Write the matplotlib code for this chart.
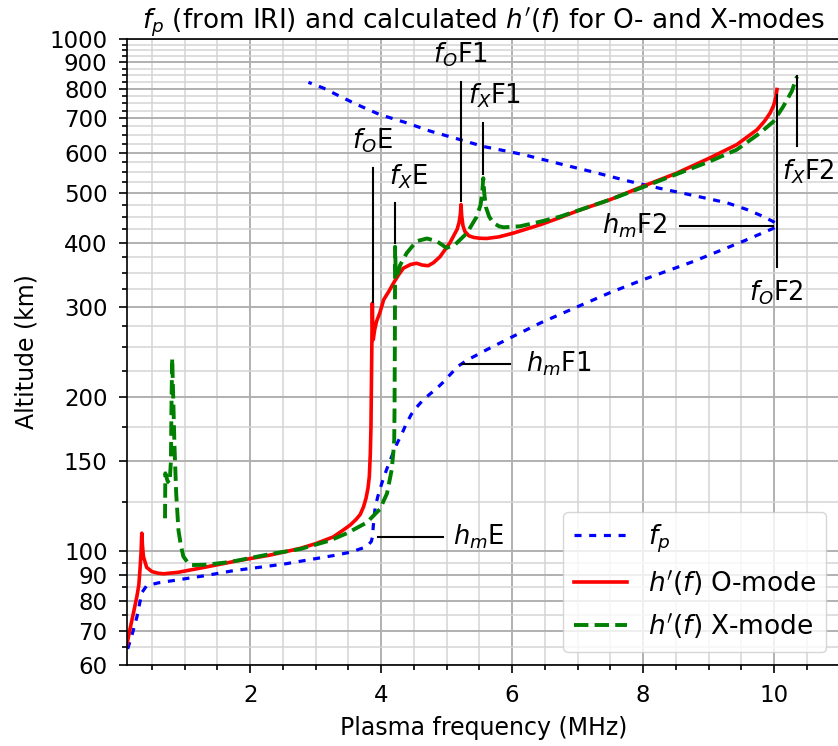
import numpy as np
import matplotlib
matplotlib.use("Agg")
import matplotlib.pyplot as plt
from matplotlib.ticker import NullFormatter

# plasma frequency profile (MHz, km), bottomside then topside
fp_freq = [0.13, 0.2, 0.27, 0.32, 0.35, 0.42, 0.6, 0.98, 1.28, 1.75, 2.51, 3.27, 3.53,
           3.73, 3.80, 3.85, 3.87, 3.88, 3.91, 3.95, 4.01, 4.08, 4.16, 4.24, 4.32, 4.39,
           4.46, 4.54, 4.65, 4.75, 4.85, 4.95, 5.05, 5.18, 5.31, 5.6, 5.97, 6.43, 6.94,
           7.5, 8.0, 8.77, 9.53, 9.99, 10.05,
           9.99, 9.79, 9.58, 9.28, 8.77, 8.26, 7.75, 7.24, 6.84, 6.17, 5.56, 5.21, 4.75,
           4.39, 3.98, 3.63, 3.37, 3.12, 2.89]
fp_alt = [64.5, 69, 74.4, 80, 83.2, 85.7, 86.8, 88.3, 89.5, 91.7, 94.4, 98.1, 99.6,
          101.6, 102.8, 104.5, 107, 112, 122, 128, 135.7, 144, 153, 162, 170, 178,
          185, 191, 198, 203, 208, 214, 221, 230, 236, 247, 261, 279, 298,
          320, 339, 368, 403, 427, 432,
          440, 453, 465, 479, 495, 511, 529, 550, 566, 595, 617, 636, 661,
          686, 712, 745, 773, 802, 823]

# virtual height, O-mode
o_freq = [0.12, 0.17, 0.22, 0.27, 0.30, 0.32, 0.335, 0.345, 0.355, 0.37, 0.42, 0.5, 0.6,
          0.68, 0.9, 1.29, 1.8, 2.3, 2.76, 3.0, 3.27, 3.42, 3.53, 3.62, 3.68, 3.73, 3.77,
          3.80, 3.82, 3.835, 3.845, 3.855, 3.862, 3.866, 3.872, 3.88, 3.9, 3.93, 3.98,
          4.04, 4.12, 4.19, 4.27, 4.34, 4.45, 4.54, 4.63, 4.72, 4.80, 4.90, 5.05, 5.16,
          5.19, 5.21, 5.22, 5.23, 5.25, 5.28, 5.34, 5.41, 5.5, 5.61, 5.8, 6.02, 6.43,
          6.73, 7.0, 7.5, 8.0, 8.51, 9.02, 9.43, 9.74, 9.85, 9.94, 9.99, 10.02, 10.035, 10.045]
o_alt = [66, 71, 76, 81.6, 86, 93, 100, 108.5, 103, 97.7, 93, 91.3, 90.6,
         90.4, 91, 93, 95.8, 98.3, 101.3, 103.5, 106.7, 110, 112.6, 115.5, 118, 122, 127,
         133, 140, 155, 175, 230, 280, 305, 275, 259, 270, 281, 292,
         310, 322, 334, 347, 357, 363, 365, 362, 361, 366, 376, 400, 425,
         438, 455, 475, 452, 432, 421, 413, 410, 408.5, 408, 411, 418, 434,
         448, 462, 486, 516, 547, 586, 622, 665, 690, 717, 740, 762, 780, 797]

# virtual height, X-mode
x_freq = [0.70, 0.705, 0.74, 0.77, 0.79, 0.80, 0.81, 0.825, 0.845, 0.87, 0.905, 0.94,
          0.98, 1.05, 1.11, 1.34, 1.69, 2.31, 2.76, 3.22, 3.48, 3.78, 3.98, 4.09, 4.16,
          4.185, 4.2, 4.205, 4.208, 4.21, 4.212, 4.213, 4.225, 4.26, 4.29, 4.39, 4.54,
          4.70, 4.85, 5.0, 5.13, 5.31, 5.46, 5.52, 5.545, 5.56, 5.575, 5.6, 5.65, 5.71,
          5.8, 5.87, 6.12, 6.43, 6.73, 7.5, 8.0, 8.5, 9.02, 9.43, 9.79, 9.99, 10.14,
          10.27, 10.35]
x_alt = [116, 142, 137, 136, 150, 200, 238, 200, 160, 130, 110, 103,
         97.7, 95, 94, 94.2, 95.3, 98.8, 101, 105, 108.5, 113.8, 120.8, 129.7, 144,
         155, 165, 190, 230, 259, 320, 393, 345, 350, 362, 382, 403,
         408, 403, 391, 397, 418, 450, 475, 505, 535, 500, 470, 450, 438,
         431, 429, 431, 440, 450, 486, 514, 544, 577, 608, 656, 690, 738,
         790, 845]

# critical frequency markers: label, line f, line bottom, line top, text f, text h, text va
crit_labels = ["$f_O$E", "$f_X$E", "$f_O$F1", "$f_X$F1", "$f_O$F2", "$f_X$F2"]
crit_f = [3.873, 4.21, 5.22, 5.55, 10.05, 10.35]
crit_lo = [307, 400, 482, 544, 359, 619]
crit_hi = [560, 479, 823, 686, 779, 845]
crit_tf = [3.87, 4.42, 5.21, 5.73, 10.03, 10.52]
crit_th = [595, 504, 872, 728, 341, 586]
crit_va = ["bottom", "bottom", "bottom", "bottom", "top", "top"]

# peak height markers: label, line from, line to, height, text f, text alignment
hm_labels = ["$h_m$E", "$h_m$F1", "$h_m$F2"]
hm_f0 = [3.95, 5.24, 8.56]
hm_f1 = [4.94, 5.97, 9.99]
hm_h = [106.6, 232, 432]
hm_tf = [5.10, 6.21, 8.37]
hm_ha = ["left", "left", "right"]

y_major = [60, 70, 80, 90, 100, 150, 200, 300, 400, 500, 600, 700, 800, 900, 1000]
y_minor = [65, 75, 85, 95] + [v for v in range(125, 1000, 25) if v not in y_major]

fig = plt.figure(figsize=(8.38, 7.46), dpi=100)
ax = fig.add_axes([0.1516, 0.1086, 0.8502, 0.8391])

ax.plot(fp_freq, fp_alt, color="blue", lw=2.3, linestyle=(0, (2.2, 2.4)), label="$f_p$")
ax.plot(o_freq, o_alt, color="red", lw=2.6, label="$h'(f)$ O-mode")
ax.plot(x_freq, x_alt, color="green", lw=2.8, linestyle="--", label="$h'(f)$ X-mode")

for lab, f, lo, hi, tf, th, va in zip(crit_labels, crit_f, crit_lo, crit_hi, crit_tf, crit_th, crit_va):
    ax.plot([f, f], [lo, hi], color="black", lw=1.5)
    ax.text(tf, th, lab, ha="center", va=va, fontsize=18.5)

for lab, f0, f1, h, tf, ha in zip(hm_labels, hm_f0, hm_f1, hm_h, hm_tf, hm_ha):
    ax.plot([f0, f1], [h, h], color="black", lw=1.5)
    ax.text(tf, h, lab, ha=ha, va="center", fontsize=18.5)

ax.set_yscale("log")
ax.set_ylim(60, 1000)
ax.set_xlim(0.12, 11)
ax.set_yticks(y_major)
ax.set_yticklabels([str(v) for v in y_major])
ax.set_yticks(y_minor, minor=True)
ax.yaxis.set_minor_formatter(NullFormatter())
ax.set_xticks([2, 4, 6, 8, 10])
ax.set_xticks(np.arange(0.5, 11, 0.5), minor=True)

ax.grid(which="major", color="#b0b0b0", lw=1.4)
ax.grid(which="minor", color="#d4d4d4", lw=1.1)
ax.tick_params(which="major", length=6, width=1.2, labelsize=16.5, pad=8)
ax.tick_params(which="minor", length=3.3, width=1.2)
for s in ax.spines.values():
    s.set_linewidth(1.2)

ax.set_xlabel("Plasma frequency (MHz)", fontsize=17, labelpad=6)
ax.set_ylabel("Altitude (km)", fontsize=17, labelpad=8)
ax.set_title("$f_p$ (from IRI) and calculated $h'(f)$ for O- and X-modes", fontsize=18.9, pad=7)
ax.legend(loc="lower right", fontsize=19)

fig.savefig("out.png", dpi=100)
